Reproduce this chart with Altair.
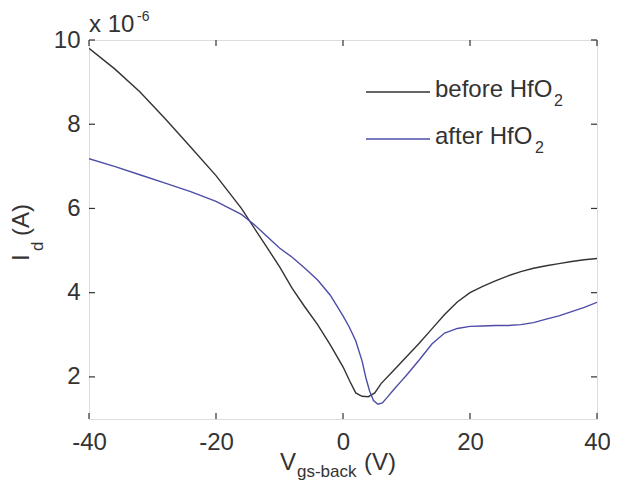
import altair as alt
import pandas as pd

# ---- data (Id in units of 1e-6 A) ----
vg_before = [-40, -36, -32, -28, -24, -20, -16, -12, -10, -8, -6, -4, -2, 0, 1, 2, 3, 4, 5, 6,
             8, 10, 12, 14, 16, 18, 20, 22, 24, 26, 28, 30, 32, 34, 36, 38, 40]
id_before = [9.80, 9.32, 8.77, 8.13, 7.46, 6.78, 6.00, 5.08, 4.62, 4.10, 3.66, 3.24, 2.76, 2.24,
             1.92, 1.62, 1.54, 1.53, 1.62, 1.84, 2.16, 2.48, 2.80, 3.14, 3.48, 3.78, 4.00, 4.15,
             4.28, 4.40, 4.50, 4.58, 4.64, 4.69, 4.74, 4.78, 4.81]

vg_after = [-40, -36, -32, -28, -24, -20, -16, -14, -12, -10, -8, -6, -4, -2, 0, 1, 2, 3, 3.6,
            4.2, 4.8, 5.5, 6.2, 7, 8, 9, 10, 12, 14, 16, 18, 20, 22, 24, 26, 28, 30, 32, 34, 36,
            38, 40]
id_after = [7.18, 7.00, 6.80, 6.60, 6.40, 6.17, 5.86, 5.62, 5.34, 5.06, 4.84, 4.58, 4.30, 3.94,
            3.45, 3.18, 2.86, 2.38, 1.98, 1.66, 1.44, 1.35, 1.38, 1.52, 1.70, 1.87, 2.04, 2.40,
            2.78, 3.04, 3.15, 3.20, 3.21, 3.22, 3.22, 3.24, 3.29, 3.37, 3.45, 3.55, 3.65, 3.77]

series_names = ["before", "after"]
x_ticks = [-40, -20, 0, 20, 40]
y_ticks = [2, 4, 6, 8, 10]

# ---- styling ----
W, H = 508, 379
FONT = "Liberation Sans"
INK = "#333333"
BLACK = "#333333"
BLUE = "#4d4da8"

df = pd.concat([
    pd.DataFrame({"vg": vg_before, "id": id_before, "series": series_names[0]}),
    pd.DataFrame({"vg": vg_after, "id": id_after, "series": series_names[1]}),
], ignore_index=True)

xs = alt.Scale(domain=[-40, 40], nice=False, zero=False)
ys = alt.Scale(domain=[1, 10], nice=False, zero=False)

lines = alt.Chart(df).mark_line(strokeWidth=1.4, clip=True).encode(
    x=alt.X("vg:Q", scale=xs,
            axis=alt.Axis(values=x_ticks, title=None, tickSize=0, domain=False, grid=False,
                          labelFontSize=24, labelPadding=11, labelColor=INK, labelFont=FONT,
                          labelFlush=False, labelExpr="'' + datum.value")),
    y=alt.Y("id:Q", scale=ys,
            axis=alt.Axis(values=y_ticks, title=None, tickSize=0, domain=False, grid=False,
                          labelFontSize=24, labelPadding=9, labelColor=INK, labelFont=FONT,
                          labelFlush=False, labelExpr="'' + datum.value")),
    color=alt.Color("series:N", scale=alt.Scale(domain=series_names, range=[BLACK, BLUE]),
                    legend=None),
)

xt = pd.DataFrame({"x": x_ticks})
yt = pd.DataFrame({"y": y_ticks})
tick_style = dict(color=INK, strokeWidth=1.2)
xb = alt.Chart(xt).mark_rule(**tick_style).encode(x=alt.X("x:Q", scale=xs), y=alt.value(H), y2=alt.value(H - 6))
xtop = alt.Chart(xt).mark_rule(**tick_style).encode(x=alt.X("x:Q", scale=xs), y=alt.value(0), y2=alt.value(6))
yl = alt.Chart(yt).mark_rule(**tick_style).encode(y=alt.Y("y:Q", scale=ys), x=alt.value(0), x2=alt.value(6))
yr = alt.Chart(yt).mark_rule(**tick_style).encode(y=alt.Y("y:Q", scale=ys), x=alt.value(W), x2=alt.value(W - 6))


def txt(s, x, y, size=24, angle=0, align="left", baseline="alphabetic", color=INK):
    return alt.Chart(pd.DataFrame({"t": [s]})).mark_text(
        align=align, baseline=baseline, fontSize=size, font=FONT, color=color, angle=angle
    ).encode(text="t:N", x=alt.value(x), y=alt.value(y))


def seg(x1, x2, y, color):
    return alt.Chart(pd.DataFrame({"t": [0]})).mark_rule(color=color, strokeWidth=1.5).encode(
        x=alt.value(x1), x2=alt.value(x2), y=alt.value(y))


legend = [
    seg(277, 341, 52, BLACK), txt("before HfO", 346, 57), txt("2", 465, 66, size=16),
    seg(277, 341, 99, BLUE), txt("after HfO", 346, 104), txt("2", 446, 113, size=16),
]

titles = [
    txt("V", 191, 430), txt("gs-back", 208, 437, size=17), txt("(V)", 275, 430),
    txt("I", -60, 221, angle=270), txt("d", -46, 211, size=17, angle=270),
    txt("(A)", -60, 196, angle=270),
    txt("x 10", 0, -8), txt("-6", 48, -19, size=14),
]

chart = alt.layer(lines, xb, xtop, yl, yr, *legend, *titles).properties(
    width=W, height=H,
    autosize=alt.AutoSizeParams(type="none"),
    padding={"left": 81, "top": 32, "right": 13, "bottom": 66},
).configure_view(stroke=INK, strokeWidth=1.5).configure(background="white")

chart.save("out.html", embed_options={"renderer": "svg", "actions": False})
